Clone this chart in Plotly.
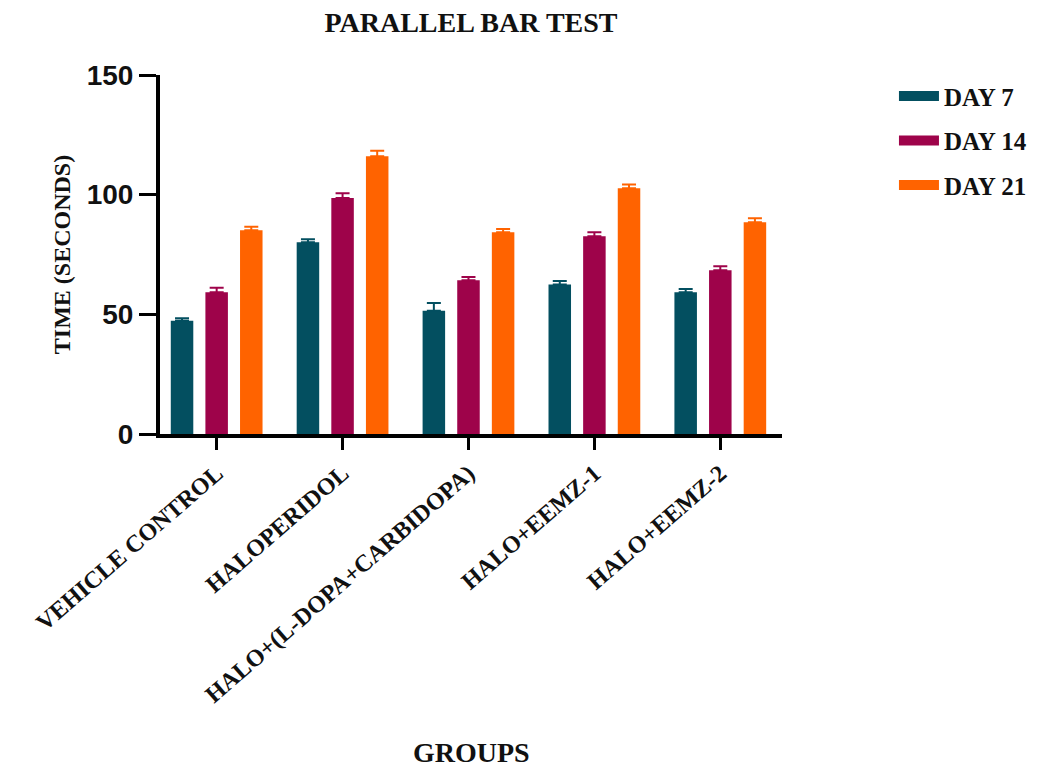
import plotly.graph_objects as go

groups = ["VEHICLE CONTROL", "HALOPERIDOL", "HALO+(L-DOPA+CARBIDOPA)", "HALO+EEMZ-1", "HALO+EEMZ-2"]
series_names = ["DAY 7", "DAY 14", "DAY 21"]
day7 = [47.3, 80.1, 51.5, 62.5, 59.2]
day14 = [59.2, 98.6, 64.2, 82.6, 68.4]
day21 = [85.1, 116.0, 84.3, 102.7, 88.5]
err7 = [1.1, 1.3, 3.2, 1.4, 1.4]
err14 = [1.9, 2.0, 1.4, 1.7, 1.7]
err21 = [1.5, 2.4, 1.4, 1.6, 1.6]
colors = ["#034F60", "#9E034A", "#FF6300"]
yticks = [0, 50, 100, 150]

serif = "Liberation Serif, Times New Roman, serif"
sans = "Liberation Sans, Arial, sans-serif"
W, H = 1037, 759

fig = go.Figure()
for name, vals, errs, c in zip(series_names, [day7, day14, day21], [err7, err14, err21], colors):
    fig.add_trace(go.Bar(
        x=groups, y=vals, name=name, legendgroup=name, showlegend=False,
        marker=dict(color=c, line=dict(width=0)),
        error_y=dict(type="data", symmetric=False, array=errs, arrayminus=[0] * len(errs),
                     color=c, thickness=2, width=7),
    ))
for name, c in zip(series_names, colors):
    fig.add_trace(go.Scatter(
        x=[None], y=[None], mode="lines", name=name, legendgroup=name,
        line=dict(color=c, width=14), showlegend=True, hoverinfo="skip",
    ))

fig.update_layout(
    width=W, height=H,
    paper_bgcolor="white", plot_bgcolor="white",
    margin=dict(l=152, r=263, t=67, b=333),
    barmode="group", bargap=0.175, bargroupgap=0.35,
    title=dict(text="PARALLEL BAR TEST", x=0.5, xref="paper", y=1 - 14 / H,
               yref="container", yanchor="middle", xanchor="center",
               font=dict(family=serif, size=28, color="#111", weight="bold")),
    legend=dict(x=1.18, y=1.005, xanchor="left", yanchor="top", traceorder="grouped",
                tracegroupgap=9, itemwidth=40,
                font=dict(family=serif, size=25, color="#111", weight="bold")),
    showlegend=True,
)
fig.update_xaxes(
    type="category", range=[-0.45, 4.49],
    showline=True, linecolor="black", linewidth=4,
    ticks="outside", ticklen=12, tickwidth=3, tickcolor="black",
    tickangle=-41, tickfont=dict(family=serif, size=24, color="#111", weight="bold"),
    showgrid=False, zeroline=False,
)
fig.update_yaxes(
    range=[0, 150], tickvals=yticks,
    showline=True, linecolor="black", linewidth=4,
    ticks="outside", ticklen=17, tickwidth=3, tickcolor="black",
    tickfont=dict(family=sans, size=28, color="#111", weight="bold"),
    title=dict(text="TIME (SECONDS)", standoff=10,
               font=dict(family=serif, size=24, color="#111", weight="bold")),
    showgrid=False, zeroline=False,
)
fig.add_annotation(text="GROUPS", xref="paper", yref="paper", x=0.5, y=(434 - 752) / 359,
                   showarrow=False, yanchor="middle", xanchor="center",
                   font=dict(family=serif, size=28, color="#111", weight="bold"))

fig.write_html("out.html")
